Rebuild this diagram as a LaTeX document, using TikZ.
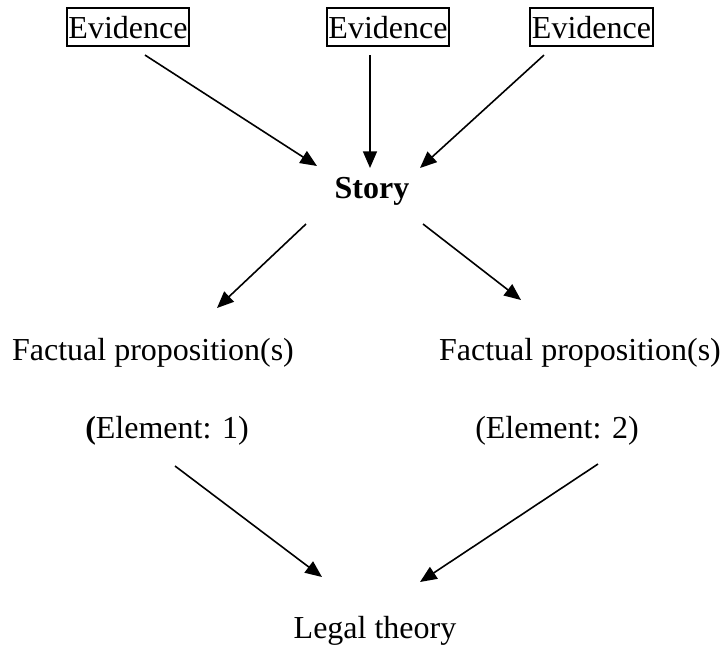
\documentclass[tikz,border=0pt]{standalone}
\usepackage{fontspec}
\setmainfont{Liberation Serif}
\usepackage{tikz}
\usetikzlibrary{arrows.meta}

\begin{document}
\begin{tikzpicture}[x=0.75pt, y=-0.75pt, every node/.style={anchor=base, inner sep=0pt, font=\fontsize{24}{28}\selectfont},
  evbox/.style={draw, line width=1.6pt, inner xsep=1.2pt, text height=22.5pt, text depth=6pt},
  arr/.style={line width=1.2pt, -{Triangle[length=12.5pt, width=10.5pt]}}]
  \useasboundingbox (0,0) rectangle (722,647);
  \node[evbox] (ev1) at (128, 38) {Evidence};
  \node[evbox] (ev2) at (388, 38) {Evidence};
  \node[evbox] (ev3) at (591.5, 38) {Evidence};
  \node (story) at (372, 198) {\textbf{Story}};
  \node (fp1) at (153, 360) {Factual proposition(s)};
  \node (fp2) at (580, 360) {Factual proposition(s)};
  \node (el1) at (167, 438) {\textbf{(}Element: 1)};
  \node (el2) at (557, 438) {(Element: 2)};
  \node (legal) at (375, 638) {Legal theory};
  \draw[arr] ([shift={(17,8)}]ev1.south) -- ([shift={(-55,-32)}]story.base);
  \draw[arr] ([shift={(-18,8)}]ev2.south) -- ([shift={(-2,-30)}]story.base);
  \draw[arr] ([shift={(-47.5,8)}]ev3.south) -- ([shift={(48,-30)}]story.base);
  \draw[arr] ([shift={(-66,26)}]story.base) -- ([shift={(64,-52)}]fp1.base);
  \draw[arr] ([shift={(51,26)}]story.base) -- ([shift={(-59,-60)}]fp2.base);
  \draw[arr] ([shift={(8,28)}]el1.base) -- ([shift={(-53,-61)}]legal.base);
  \draw[arr] ([shift={(41,26)}]el2.base) -- ([shift={(45,-56)}]legal.base);
\end{tikzpicture}
\end{document}
